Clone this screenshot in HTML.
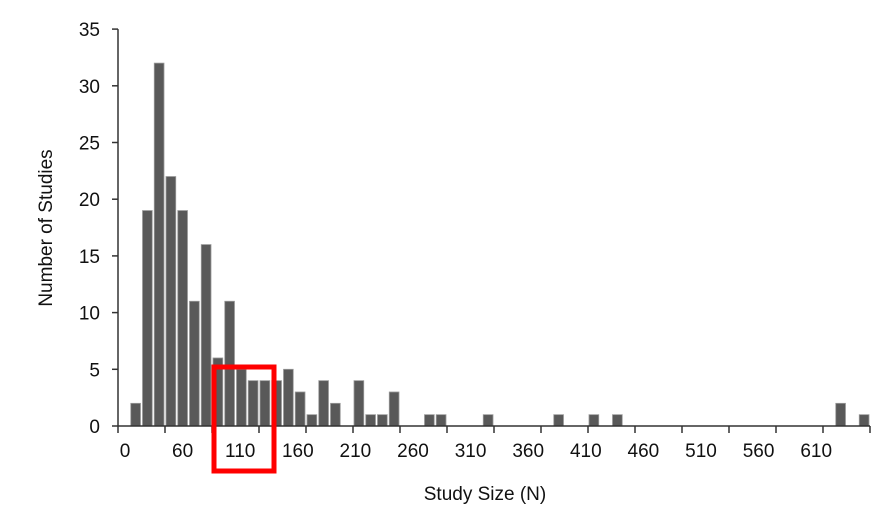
<!DOCTYPE html>
<html><head><meta charset="utf-8"><style>
body{margin:0;background:#fff;width:890px;height:516px;overflow:hidden}
svg text{font-family:"Liberation Sans",sans-serif;fill:#111}
</style></head><body>
<svg id="chart" width="890" height="516" viewBox="0 0 890 516" xmlns="http://www.w3.org/2000/svg">
<g id="bars"></g>
<g id="axes"></g>
<text transform="translate(52,228) rotate(-90)" text-anchor="middle" font-size="19">Number of Studies</text>
<text x="485" y="500" text-anchor="middle" font-size="19">Study Size (N)</text>
<rect x="214" y="367" width="60" height="104" fill="none" stroke="#f00" stroke-width="5"/>
</svg>
<script>
const binIndex=[1,2,3,4,5,6,7,8,9,10,11,12,13,14,15,16,17,18,20,21,22,23,26,27,31,37,40,42,61,63];
const counts=[2,19,32,22,19,11,16,6,11,5,4,4,4,5,3,1,4,2,4,1,1,3,1,1,1,1,1,1,2,1];
const xTickLabels=["0","60","110","160","210","260","310","360","410","460","510","560","610"];
const yTickValues=[0,5,10,15,20,25,30,35];
const NB=64, X0=118, X1=870, Y0=426, YPX=11.34;
const pitch=(X1-X0)/NB;
const xs=i=>X0+i*pitch;
const ys=v=>Y0-v*YPX;
const NS="http://www.w3.org/2000/svg";
const bars=document.getElementById('bars'), axes=document.getElementById('axes');
function mk(tag,attrs,parent){const e=document.createElementNS(NS,tag);for(const k in attrs)e.setAttribute(k,attrs[k]);parent.appendChild(e);return e;}
binIndex.forEach((b,k)=>{
  const r=mk('rect',{x:xs(b)+1,y:ys(counts[k]),width:pitch-2,height:Y0-ys(counts[k]),fill:'#595959',stroke:'#9a9a9a','stroke-width':0.8},bars);
  
  
});
const ax=mk('line',{x1:X0,y1:Y0,x2:X1,y2:Y0,stroke:'#333','stroke-width':1.5},axes);


const ay=mk('line',{x1:X0,y1:ys(35),x2:X0,y2:Y0,stroke:'#333','stroke-width':1.5},axes);


for(let i=0;i<=NB;i+=4){
  const t=mk('line',{x1:xs(i),y1:Y0,x2:xs(i),y2:Y0+7,stroke:'#333','stroke-width':1.5},axes);
  
  
}
xTickLabels.forEach((l,i)=>{
  const t=mk('text',{x:125+i*57.6,y:457,'text-anchor':'middle','font-size':19},axes);
  t.textContent=l;
  
  
});
yTickValues.forEach(v=>{
  const t=mk('line',{x1:X0-6,y1:ys(v),x2:X0,y2:ys(v),stroke:'#333','stroke-width':1.5},axes);
  
  
  const l=mk('text',{x:100,y:ys(v)+7,'text-anchor':'end','font-size':19},axes);
  l.textContent=v;
  
  
});
</script>
</body></html>
